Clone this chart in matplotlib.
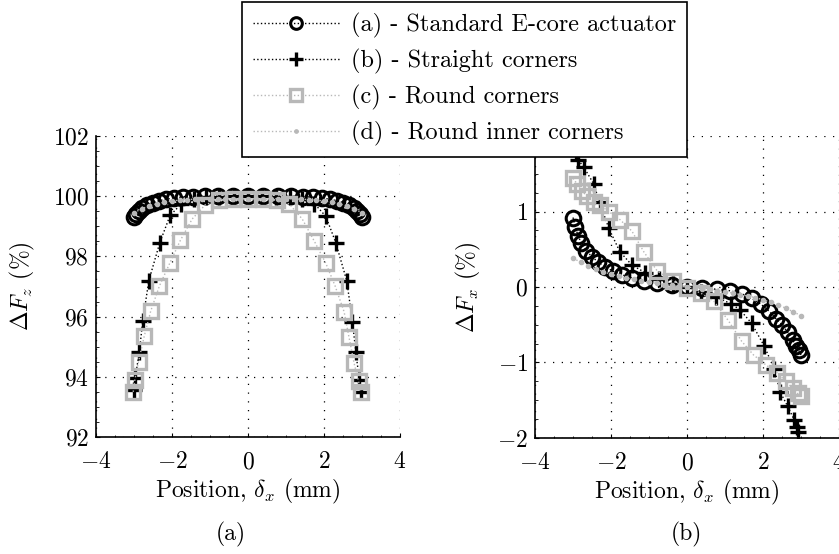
import matplotlib
matplotlib.use("Agg")
import matplotlib.pyplot as plt
from matplotlib.ticker import AutoMinorLocator

plt.rcParams['font.family'] = 'serif'
plt.rcParams['font.serif'] = ['cmr10']
plt.rcParams['mathtext.fontset'] = 'cm'
plt.rcParams['axes.formatter.use_mathtext'] = True
plt.rcParams['axes.unicode_minus'] = True

labels = ["(a) - Standard E-core actuator", "(b) - Straight corners",
          "(c) - Round corners", "(d) - Round inner corners"]

# ---- series (a) standard E-core: circles ----
xa = [-3.0, -2.94, -2.87, -2.78, -2.65, -2.5, -2.34, -2.16, -1.95, -1.7, -1.44, -1.13,
      -0.78, -0.39, 0.0, 0.39, 0.78, 1.13, 1.44, 1.7, 1.95, 2.16, 2.34, 2.5, 2.65,
      2.78, 2.87, 2.94, 3.0]
fz_a = [99.3, 99.42, 99.52, 99.62, 99.71, 99.79, 99.85, 99.9, 99.94, 99.97, 99.99, 100.0,
        100.0, 100.0, 100.0, 100.0, 100.0, 100.0, 99.99, 99.97, 99.94, 99.9, 99.85, 99.79,
        99.71, 99.62, 99.52, 99.42, 99.3]
fx_a = [0.92, 0.8, 0.68, 0.58, 0.48, 0.4, 0.33, 0.27, 0.21, 0.16, 0.12, 0.08,
        0.05, 0.02, 0.0, -0.01, -0.03, -0.05, -0.09, -0.15, -0.23, -0.32, -0.42, -0.5,
        -0.6, -0.7, -0.78, -0.84, -0.9]

# ---- series (b) straight corners: plus ----
xb_z = [-3.0, -2.97, -2.86, -2.77, -2.61, -2.32, -2.05, -1.75, -1.43, -1.1, -0.75, -0.38, 0.0,
        0.38, 0.75, 1.1, 1.43, 1.75, 2.05, 2.31, 2.6, 2.75, 2.84, 2.93, 2.97]
fz_b = [93.56, 93.95, 94.82, 95.85, 97.19, 98.46, 99.36, 99.75, 99.9, 99.96, 99.98, 100.0, 100.0,
        100.0, 99.98, 99.96, 99.9, 99.75, 99.33, 98.46, 97.19, 95.83, 94.81, 93.9, 93.5]
xb_x = [-2.97, -2.92, -2.86, -2.72, -2.46, -2.3, -2.06, -1.77, -1.45, -1.1, -0.75, -0.38, 0.0,
        0.38, 0.75, 1.15, 1.39, 1.7, 2.03, 2.3, 2.45, 2.65, 2.82, 2.89, 2.93]
fx_b = [1.92, 1.8, 1.68, 1.59, 1.37, 1.12, 0.78, 0.47, 0.29, 0.19, 0.1, 0.04, 0.0,
        -0.06, -0.13, -0.22, -0.3, -0.48, -0.78, -1.09, -1.39, -1.58, -1.76, -1.85, -1.92]

# ---- series (c) round corners: squares ----
xc_z = [-3.02, -2.98, -2.88, -2.73, -2.56, -2.33, -2.06, -1.78, -1.47, -1.12, -0.76, -0.4, 0.0,
        0.4, 0.76, 1.09, 1.43, 1.74, 2.05, 2.29, 2.53, 2.66, 2.79, 2.91, 2.97]
fz_c = [93.5, 93.88, 94.5, 95.35, 96.18, 97.02, 97.77, 98.53, 99.24, 99.72, 99.88, 99.9, 99.9,
        99.9, 99.88, 99.74, 99.24, 98.52, 97.77, 97.03, 96.16, 95.31, 94.47, 93.85, 93.5]
xc_x = [-3.0, -2.9, -2.77, -2.62, -2.46, -2.28, -2.06, -1.76, -1.45, -1.13, -0.78, -0.38, 0.0,
        0.36, 0.71, 1.08, 1.44, 1.75, 2.07, 2.38, 2.6, 2.78, 2.91, 3.0]
fx_c = [1.44, 1.37, 1.27, 1.2, 1.13, 1.08, 1.0, 0.89, 0.74, 0.46, 0.21, 0.08, -0.01,
        -0.08, -0.19, -0.44, -0.72, -0.9, -1.03, -1.14, -1.25, -1.34, -1.41, -1.45]

# ---- series (d) round inner corners: small dots ----
xd = [-3.0, -2.8, -2.6, -2.4, -2.2, -2.0, -1.8, -1.6, -1.4, -1.2, -1.0, -0.8, -0.6, -0.4, -0.2,
      0.0, 0.2, 0.4, 0.6, 0.8, 1.0, 1.2, 1.4, 1.6, 1.8, 2.0, 2.2, 2.4, 2.6, 2.8, 3.0]
fz_d = [99.45, 99.58, 99.68, 99.75, 99.8, 99.84, 99.87, 99.89, 99.9, 99.91, 99.92, 99.92, 99.92,
        99.92, 99.92, 99.92, 99.92, 99.92, 99.92, 99.92, 99.92, 99.91, 99.9, 99.89, 99.87, 99.84,
        99.8, 99.75, 99.68, 99.58, 99.45]
fx_d = [0.38, 0.33, 0.28, 0.24, 0.2, 0.17, 0.14, 0.12, 0.1, 0.08, 0.06, 0.05, 0.03, 0.02, 0.01,
        0.0, -0.01, -0.02, -0.03, -0.05, -0.06, -0.08, -0.1, -0.12, -0.14, -0.17, -0.2, -0.24,
        -0.28, -0.33, -0.38]

xticks = [-4, -2, 0, 2, 4]
yticks_z = [92, 94, 96, 98, 100, 102]
yticks_x = [-2, -1, 0, 1, 2]
yticklabels_x = [r'$-2$', r'$-1$', r'$0$', r'$1$', '']  # "2" is hidden under the legend

gray = '0.72'
styles = [
    dict(color='black', marker='o', ms=10.5, mew=2.2, mfc='none', mec='black', ls=':', lw=1.0),
    dict(color='black', marker='+', ms=12, mew=2.4, mec='black', ls=':', lw=1.0),
    dict(color=gray, marker='s', ms=10, mew=2.4, mfc='none', mec=gray, ls=':', lw=1.0),
    dict(color=gray, marker='.', ms=6, mfc=gray, mec=gray, ls=':', lw=1.0),
]

FS = 17

fig = plt.figure(figsize=(8.39, 5.54), dpi=100)
ax1 = fig.add_axes([0.1144, 0.2112, 0.3623, 0.5433])
ax2 = fig.add_axes([0.6377, 0.2094, 0.3623, 0.5451])

handles = []
for (x, y), st in zip([(xa, fz_a), (xb_z, fz_b), (xc_z, fz_c), (xd, fz_d)], styles):
    h, = ax1.plot(x, y, **st)
    handles.append(h)
for (x, y), st in zip([(xa, fx_a), (xb_x, fx_b), (xc_x, fx_c), (xd, fx_d)], styles):
    ax2.plot(x, y, **st)

ax1.set_xlim(-4, 4)
ax1.set_ylim(92, 102)
ax1.set_yticks(yticks_z)
ax2.set_xlim(-4, 4)
ax2.set_ylim(-2, 2)
ax2.set_yticks(yticks_x)
ax2.set_yticklabels(yticklabels_x)

for ax in (ax1, ax2):
    ax.set_xticks(xticks)
    ax.xaxis.set_minor_locator(AutoMinorLocator(4))
    ax.yaxis.set_minor_locator(AutoMinorLocator(4))
    ax.grid(True, which='major', color='black', linestyle=(0, (1, 6)), linewidth=0.9)
    ax.spines['top'].set_visible(False)
    ax.spines['right'].set_visible(False)
    ax.spines['left'].set_linewidth(1.2)
    ax.spines['bottom'].set_linewidth(1.2)
    ax.tick_params(which='major', direction='in', length=3, labelsize=FS)
    ax.tick_params(which='minor', direction='in', length=1.8, width=0.6)
    ax.tick_params(axis='x', which='major', pad=10)
    ax.tick_params(axis='y', which='major', pad=5)
    ax.set_xlabel(r'Position, $\delta_x$ (mm)', fontsize=FS, labelpad=3)

ax1.set_ylabel(r'$\Delta F_z$ (%)', fontsize=FS, labelpad=11)
ax2.set_ylabel(r'$\Delta F_x$ (%)', fontsize=FS, labelpad=10)

fig.text(0.2755, 0.036, '(a)', ha='center', va='center', fontsize=FS)
fig.text(0.818, 0.036, '(b)', ha='center', va='center', fontsize=FS)

leg = fig.legend(handles, labels, loc='upper center', bbox_to_anchor=(0.5536, 0.997),
                 fontsize=FS + 0.5, handlelength=3.6, markerscale=0.8, labelspacing=0.45,
                 borderpad=0.45, handletextpad=0.45, borderaxespad=0.0, fancybox=False,
                 framealpha=1.0, edgecolor='black')
leg.get_frame().set_linewidth(1.2)
leg.set_zorder(10)

fig.savefig('out.png', dpi=100)
